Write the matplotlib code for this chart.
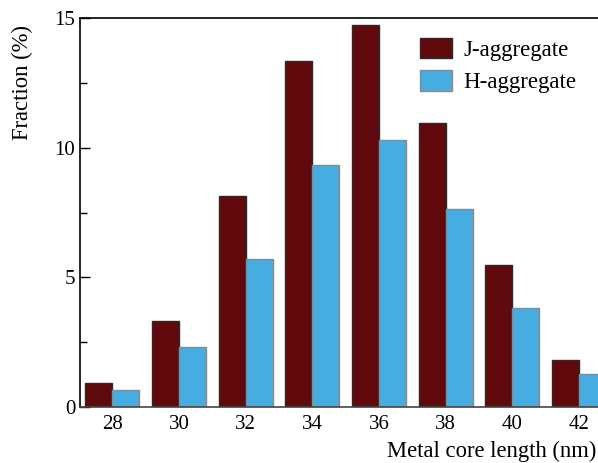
import numpy as np
import matplotlib.pyplot as plt
from matplotlib.ticker import MultipleLocator

plt.rcParams['font.family'] = 'Liberation Serif'
plt.rcParams['font.size'] = 15

# length bins (nm) and fractions (%)
lengths = [28, 30, 32, 34, 36, 38, 40, 42]
j_agg = [0.93, 3.33, 8.12, 13.34, 14.74, 10.94, 5.46, 1.82]
h_agg = [0.66, 2.33, 5.71, 9.35, 10.30, 7.64, 3.81, 1.26]

x = np.array(lengths)
w = 0.81

fig = plt.figure(figsize=(5.98, 4.63), dpi=100)
ax = fig.add_axes([0.1338, 0.121, 0.89, 0.840])

ax.bar(x - w/2, j_agg, w, color='#600a0e', edgecolor='#2a2a2a', lw=1.0, label='J-aggregate')
ax.bar(x + w/2, h_agg, w, color='#47ace0', edgecolor='#8a8a8a', lw=1.0, label='H-aggregate')

ax.set_xlim(27.03, 43)
ax.set_ylim(0, 15)
ax.set_xticks(lengths)
ax.yaxis.set_major_locator(MultipleLocator(5))
ax.yaxis.set_minor_locator(MultipleLocator(2.5))
ax.tick_params(axis='y', which='major', direction='in', length=7, width=1)
ax.tick_params(axis='y', which='minor', direction='in', length=5, width=1)
ax.tick_params(axis='x', length=0, pad=6)
for s in ax.spines.values():
    s.set_linewidth(1.2)
ax.spines['bottom'].set_color('#444444')

ax.set_ylabel('Fraction (%)', fontsize=16.3)
ax.yaxis.set_label_coords(-0.088, 0.835)
fig.text(0.997, 0.025, 'Metal core length (nm)', ha='right', va='center', fontsize=16.3)

ax.legend(loc='upper left', bbox_to_anchor=(0.639, 0.949), frameon=False,
          fontsize=16.5, borderpad=0, borderaxespad=0,
          handlelength=1.4, handleheight=1.0, handletextpad=0.5, labelspacing=0.4)

fig.savefig('out.png', dpi=100)
